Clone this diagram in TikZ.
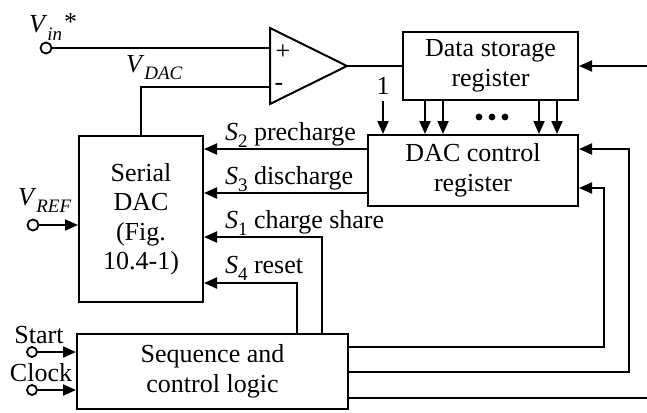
\documentclass[tikz,border=0pt]{standalone}
\usepackage{fontspec}
\setmainfont{Liberation Serif}
\usetikzlibrary{arrows.meta}
\newcommand{\lsub}[1]{\raisebox{-0.3em}{\fontsize{19}{19}\selectfont #1}}
\begin{document}
\begin{tikzpicture}[x=1pt, y=-1pt, line width=2pt,
  font=\fontsize{26}{29.5}\selectfont,
  blk/.style={draw, line width=2pt, inner sep=0pt, align=center},
  arr/.style={-{Triangle[length=13pt,width=11pt]}},
  term/.style={circle, draw, line width=1.8pt, inner sep=0pt, minimum size=11pt, fill=white},
  lbl/.style={inner sep=0pt, anchor=base west},
  clbl/.style={inner sep=0pt, anchor=base}]
\useasboundingbox (0,0) rectangle (647,412);

% blocks
\node[blk, minimum width=175pt, minimum height=67pt] (dsr) at (490.5,66) {Data storage\\register};
\node[blk, minimum width=210pt, minimum height=71pt] (dcr) at (473,170.5) {DAC control\\register};
\node[blk, minimum width=124pt, minimum height=166pt] (dac) at (141,219) {Serial\\DAC\\(Fig.\\10.4-1)};
\node[blk, minimum width=271pt, minimum height=75pt] (seq) at (212.5,371.5) {Sequence and\\control logic};

% comparator
\coordinate (cpt) at (270,28);
\coordinate (cpb) at (270,104);
\coordinate (cpo) at (347,66);
\coordinate (cmpplus) at (270,48);
\coordinate (cmpminus) at (270,87);
\draw[line join=miter] (cpt) -- (cpo) -- (cpb) -- cycle;
\node[inner sep=0pt, font=\fontsize{26}{26}\selectfont] (plus) at (283,52) {+};
\node[inner sep=0pt, font=\fontsize{26}{26}\selectfont] (minus) at (279,87) {-};

% Vin
\node[term] (vin) at (46,48) {};
\draw (vin) -- (cmpplus);
\node[lbl] (vinl) at (28,33) {\textit{V}\lsub{\textit{in}}};
\node[lbl] (star) at (63,31) {*};

% VDAC
\draw (dac.north) |- (cmpminus);
\node[lbl] (vdacl) at (125,72) {\textit{V}\lsub{\textit{DAC}}};

% comparator output and right input
\draw (cpo) -- (dsr.west);
\coordinate (rin) at (647,66);
\draw[arr] (rin) -- (dsr.east);

% data lines
\coordinate (x383) at (383,0);
\coordinate (x425) at (425,0);
\coordinate (x443) at (443,0);
\coordinate (x539) at (539,0);
\coordinate (x557) at (557,0);
\draw[arr] (dsr.south -| x383) -- (dcr.north -| x383);
\node[clbl] (one) at (383,94) {1};
\foreach \c in {x425,x443,x539,x557}
  \draw[arr] (dsr.south -| \c) -- (dcr.north -| \c);
\foreach \xx in {479,492,505}
  \fill (\xx,117) circle (3.4);

% control lines
\coordinate (s2y) at (0,149);
\coordinate (s3y) at (0,193);
\coordinate (s1y) at (0,237);
\coordinate (s4y) at (0,283);
\coordinate (x322) at (322,0);
\coordinate (x297) at (297,0);
\draw[arr] (dcr.west |- s2y) -- (dac.east |- s2y);
\draw[arr] (dcr.west |- s3y) -- (dac.east |- s3y);
\draw[arr] (seq.north -| x322) |- (dac.east |- s1y);
\draw[arr] (seq.north -| x297) |- (dac.east |- s4y);
\node[lbl] (s2l) at (224,140) {\textit{S}\lsub{2} precharge};
\node[lbl] (s3l) at (224,184) {\textit{S}\lsub{3} discharge};
\node[lbl] (s1l) at (224,228) {\textit{S}\lsub{1} charge share};
\node[lbl] (s4l) at (224,273) {\textit{S}\lsub{4} reset};

% VREF
\node[term] (vref) at (33,225) {};
\draw[arr] (vref) -- (vref -| dac.west);
\node[lbl] (vrefl) at (17,205) {\textit{V}\lsub{\textit{REF}}};

% Start / Clock
\node[term, minimum size=10pt] (start) at (32,352) {};
\node[term, minimum size=10pt] (clock) at (32,390) {};
\draw[arr] (start) -- (start -| seq.west);
\draw[arr] (clock) -- (clock -| seq.west);
\node[clbl] (startl) at (39,343) {Start};
\node[clbl] (clockl) at (41,381) {Clock};

% feedback from sequence logic
\coordinate (f1) at (604,188);
\coordinate (f2) at (629,149);
\coordinate (r1y) at (0,347);
\coordinate (r2y) at (0,372);
\coordinate (r3y) at (0,398);
\coordinate (rout) at (647,398);
\draw[arr] (seq.east |- r1y) -| (f1) -- (dcr.east |- f1);
\draw[arr] (seq.east |- r2y) -| (f2) -- (dcr.east |- f2);
\draw (seq.east |- r3y) -- (rout);
\end{tikzpicture}
\end{document}
